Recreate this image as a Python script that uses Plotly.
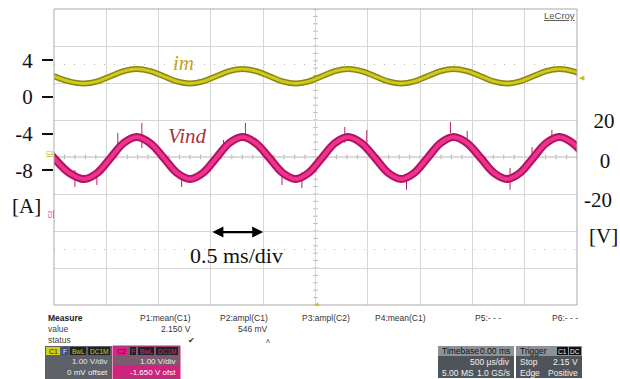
import plotly.graph_objects as go

# ---------------- data ----------------
t_ms = [-0.25, -0.12, 0.00, 0.145, 0.29, 0.415, 0.54, 0.665,
        0.79, 0.92, 1.05, 1.175, 1.30, 1.425, 1.55, 1.675,
        1.80, 1.93, 2.06, 2.185, 2.31, 2.435, 2.56, 2.685,
        2.81, 2.94, 3.07, 3.195, 3.32, 3.445, 3.57, 3.695,
        3.82, 3.95, 4.08, 4.205, 4.33, 4.455, 4.58, 4.705,
        4.83, 4.96, 5.09]
im_A = [3.05, 2.82, 2.26, 1.70, 1.47, 1.70, 2.26, 2.82,
        3.05, 2.82, 2.26, 1.70, 1.47, 1.70, 2.26, 2.82,
        3.05, 2.82, 2.26, 1.70, 1.47, 1.70, 2.26, 2.82,
        3.05, 2.82, 2.26, 1.70, 1.47, 1.70, 2.26, 2.82,
        3.05, 2.82, 2.26, 1.70, 1.47, 1.70, 2.26, 2.82,
        3.05, 2.82, 2.26]
vind_V = [11.9, 8.78, 1.25, -6.28, -9.4, -6.28, 1.25, 8.78,
          11.9, 8.78, 1.25, -6.28, -9.4, -6.28, 1.25, 8.78,
          11.9, 8.78, 1.25, -6.28, -9.4, -6.28, 1.25, 8.78,
          11.9, 8.78, 1.25, -6.28, -9.4, -6.28, 1.25, 8.78,
          11.9, 8.78, 1.25, -6.28, -9.4, -6.28, 1.25, 8.78,
          11.9, 8.78, 1.25]

# switching spikes on Vind (time, low end, high end)
spike_t = [0.20, 0.41, 0.61, 0.84, 1.22, 1.62, 1.83, 2.18, 2.37, 2.78, 2.99,
           3.37, 3.79, 3.95, 4.36, 4.57, 4.76]
spike_lo = [-13.4, -12.4, 6.8, 6.3, -13.4, 5.3, 11.4, -12.4, -14.0, 9.0, 8.9,
            -14.9, 13.9, 8.0, -14.9, 0.3, 9.4]
spike_hi = [-4.8, -6.3, 13.9, 19.0, -6.3, 10.4, 19.0, -6.3, -6.0, 17.0, 15.4,
            -7.3, 19.5, 15.0, -3.8, 6.8, 15.4]

left_ticks = [4, 0, -4, -8]
left_ticktext = ["4", "0", "-4", "-8"]
right_ticks = [20, 0, -20]
right_ticktext = ["\u2009 20", "\u2002 0", "-20"]

measure_headers = ["P1:mean(C1)", "P2:ampl(C1)", "P3:ampl(C2)", "P4:mean(C1)", "P5:- - -", "P6:- - -"]
measure_values = ["2.150 V", "546 mV", "", "", "", ""]

# ---------------- geometry helpers ----------------
L, R, T, B = 54, 577, 9, 305
W, H = 620, 379


def px(x):
    return (x - L) / (R - L)


def py(y):
    return (B - y) / (B - T)


SERIF = "Liberation Serif, Times New Roman, serif"
SANS = "Liberation Sans, Arial, sans-serif"

fig = go.Figure()

# spikes
sx, sy = [], []
for t, lo, hi in zip(spike_t, spike_lo, spike_hi):
    sx += [t, t, None]
    sy += [lo, hi, None]
fig.add_trace(go.Scatter(x=sx, y=sy, yaxis="y2", mode="lines",
                         line=dict(color="#b8206a", width=1), hoverinfo="skip"))

# im (left axis, A)
fig.add_trace(go.Scatter(x=t_ms, y=im_A, mode="lines", yaxis="y",
                         line=dict(color="#8a8616", width=6, shape="spline"), hoverinfo="skip"))
fig.add_trace(go.Scatter(x=t_ms, y=im_A, mode="lines", yaxis="y",
                         line=dict(color="#d0ca1c", width=3, shape="spline"), name="im"))
# Vind (right axis, V)
fig.add_trace(go.Scatter(x=t_ms, y=vind_V, mode="lines", yaxis="y2",
                         line=dict(color="#b3125e", width=8, shape="spline"), hoverinfo="skip"))
fig.add_trace(go.Scatter(x=t_ms, y=vind_V, mode="lines", yaxis="y2",
                         line=dict(color="#ee3290", width=4, shape="spline"), name="Vind"))

shapes = []
# dotted cursor lines at +/-2.5 div
for lv in (2.5, -2.5):
    shapes.append(dict(type="line", xref="x", yref="y3", x0=0, x1=5, y0=lv, y1=lv,
                       line=dict(color="#b5b5b5", width=1, dash="1px,9px"), layer="below"))
# minor ticks along centre axes
k = 0
while k <= 50:
    xv = k * 0.1
    shapes.append(dict(type="line", xref="x", yref="y3", x0=xv, x1=xv, y0=-0.06, y1=0.06,
                       line=dict(color="#a8a8a8", width=1), layer="below"))
    k += 1
k = 0
while k <= 40:
    yv = -4 + k * 0.2
    shapes.append(dict(type="line", xref="x", yref="y3", x0=2.48, x1=2.52, y0=yv, y1=yv,
                       line=dict(color="#a8a8a8", width=1), layer="below"))
    k += 1
# centre lines slightly darker
shapes.append(dict(type="line", xref="x", yref="y3", x0=0, x1=5, y0=0, y1=0,
                   line=dict(color="#bdbdbd", width=1), layer="below"))
shapes.append(dict(type="line", xref="x", yref="y3", x0=2.5, x1=2.5, y0=-4, y1=4,
                   line=dict(color="#bdbdbd", width=1), layer="below"))
# frame
shapes.append(dict(type="rect", xref="paper", yref="paper", x0=0, x1=1, y0=0, y1=1,
                   line=dict(color="#a9a9a9", width=1)))


def rect(x0, y0, x1, y1, color, line=None):
    shapes.append(dict(type="rect", xref="paper", yref="paper",
                       x0=px(x0), x1=px(x1), y0=py(y1), y1=py(y0),
                       fillcolor=color, line=dict(width=1 if line else 0, color=line or color),
                       layer="above"))


annotations = []


def text(x, y, s, size=9, color="#333", family=SANS, xa="center", ya="middle", angle=0):
    annotations.append(dict(x=px(x), y=py(y), xref="paper", yref="paper", text=s,
                            showarrow=False, xanchor=xa, yanchor=ya, textangle=angle,
                            font=dict(size=size, color=color, family=family)))


# chart labels
text(183, 63, "<i>im</i>", 21, "#c9a21a", SERIF)
text(187, 136, "<i>Vind</i>", 21, "#a8343c", SERIF)
text(26, 206, "[A]", 21, "#111", SERIF)
text(603, 236, "[V]", 21, "#111", SERIF)
text(236, 255, "0.5 ms/div", 22, "#111", SERIF)
text(577, 15, "<u>LeCroy</u>", 9.5, "#555", SANS, xa="right")
text(50, 153, "<u>C1</u>", 6, "#b5ad00", SANS)
text(50, 214, "<u>C2</u>", 6, "#e0208a", SANS, angle=-90)
text(582, 77, "\u25C0", 7, "#c8c000", SANS)
text(317, 303, "\u25B2", 7, "#c8c000", SANS)

# double arrow 0.5 ms
annotations.append(dict(x=2.0, y=-2.03, ax=1.5, ay=-2.03, xref="x", yref="y3",
                        axref="x", ayref="y3", text="", showarrow=True,
                        arrowhead=2, startarrowhead=2, arrowside="end+start",
                        arrowwidth=2.2, arrowsize=1, startarrowsize=1, arrowcolor="#000"))

# measure table
text(46, 318, "<b>Measure</b>", 8.5, "#222", xa="left")
text(46, 329, "value", 8.5, "#444", xa="left")
text(46, 340, "status", 8.5, "#444", xa="left")
head_right = [193, 270, 352, 428, 503, 580]
for xr, h, v in zip(head_right, measure_headers, measure_values):
    text(xr, 318, h, 8.5, "#333", xa="right")
    if v:
        text(xr, 329, v, 8.5, "#333", xa="right")
text(191, 340, "\u2714", 8, "#333")
text(268, 340, "\u028C", 8, "#555")

# C1 box
rect(45, 346, 112, 379, "#5d6167")
rect(46, 347, 60, 355, "#d6cf10")
text(53, 351, "C1", 7, "#222")
rect(62, 347, 68, 355, "#3a4f8c")
text(65, 351, "F", 6.5, "#e8e8e8")
rect(70, 347, 86, 355, "#222")
text(78, 351, "BwL", 6.5, "#d6cf10")
rect(88, 347, 110, 355, "#222")
text(99, 351, "DC1M", 6.5, "#d6cf10")
text(110, 361, "1.00 V/div", 8, "#e6e6e6", xa="right")
text(110, 372, "0 mV offset", 8, "#f2f2f2", xa="right")

# C2 box
rect(113, 346, 180, 379, "#7c5a6f", line="#d0237e")
rect(114, 365, 179, 378, "#d0237e")
rect(114, 347, 128, 355, "#e0208a")
text(121, 351, "C2", 7, "#222")
rect(130, 347, 136, 355, "#222")
text(133, 351, "F", 6.5, "#e0208a")
rect(138, 347, 154, 355, "#222")
text(146, 351, "BwL", 6.5, "#e0208a")
rect(156, 347, 178, 355, "#222")
text(167, 351, "DC1M", 6.5, "#e0208a")
text(178, 361, "1.00 V/div", 8, "#eeeeee", xa="right")
text(178, 372, "-1.650 V ofst", 8, "#ffffff", xa="right")

# Timebase box
rect(438, 346, 514, 378, "#4f545a")
rect(438, 346, 514, 356, "#8d9298")
text(440, 351, "Timebase", 8.5, "#111", xa="left")
text(512, 351, "0.00 ms", 8.5, "#111", xa="right")
text(512, 362, "500 \u00b5s/div", 8.5, "#f0f0f0", xa="right")
text(440, 373, "5.00 MS", 8.5, "#f0f0f0", xa="left")
text(512, 373, "1.0 GS/s", 8.5, "#f0f0f0", xa="right")

# Trigger box
rect(516, 346, 582, 378, "#4f545a")
rect(516, 346, 582, 356, "#8d9298")
text(518, 351, "Trigger", 8.5, "#111", xa="left")
rect(557, 347, 568, 355, "#111")
text(562.5, 351, "C1", 6.5, "#eee")
rect(569, 347, 581, 355, "#111")
text(575, 351, "DC", 6.5, "#eee")
text(518, 362, "Stop", 8.5, "#f0f0f0", xa="left")
text(580, 362, "2.15 V", 8.5, "#f0f0f0", xa="right")
text(518, 373, "Edge", 8.5, "#f0f0f0", xa="left")
text(580, 373, "Positive", 8.5, "#f0f0f0", xa="right")

A_top = (97 - T) / 9.17
A_bot = (97 - B) / 9.17
V_top = (160.5 - T) / 1.975
V_bot = (160.5 - B) / 1.975

fig.update_layout(
    width=W, height=H,
    margin=dict(l=L, r=W - R, t=T, b=H - B, autoexpand=False),
    paper_bgcolor="white", plot_bgcolor="white",
    showlegend=False,
    xaxis=dict(range=[0, 5], dtick=0.5, tick0=0, showgrid=True, gridcolor="#d6d6d6",
               gridwidth=1, showticklabels=False, zeroline=False, showline=False, ticks=""),
    yaxis=dict(range=[A_bot, A_top], tickvals=left_ticks, ticktext=left_ticktext,
               ticks="outside", ticklen=11, tickwidth=1.6, tickcolor="#111",
               showgrid=False, zeroline=False, showline=False,
               tickfont=dict(family=SERIF, size=21, color="#111"), ticklabelstandoff=5),
    yaxis2=dict(range=[V_bot, V_top], overlaying="y", side="right",
                tickvals=right_ticks, ticktext=right_ticktext, ticks="",
                showgrid=False, zeroline=False, showline=False,
                tickfont=dict(family=SERIF, size=21, color="#111"), ticklabelstandoff=6),
    yaxis3=dict(range=[-4, 4], overlaying="y", dtick=1, tick0=0, showgrid=True,
                gridcolor="#d6d6d6", gridwidth=1, showticklabels=False, ticks="",
                zeroline=False, showline=False),
    shapes=shapes,
    annotations=annotations,
)

fig.write_html("out.html", config={"displayModeBar": False},
               post_script="document.body.style.margin='0';")
